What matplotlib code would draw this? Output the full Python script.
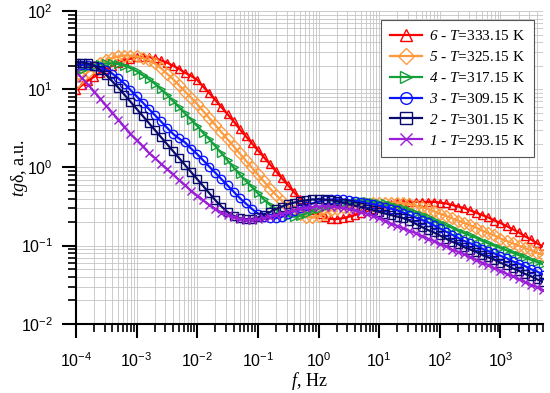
import matplotlib
matplotlib.use("Agg")
import matplotlib.pyplot as plt
from matplotlib.ticker import LogLocator, FuncFormatter, NullFormatter
import numpy as np

# frequency grid of the measurement, 10 points per decade, 1e-4 .. 5e3 Hz
freq = 10 ** np.round(np.arange(-4.0, 3.75, 0.1), 1)

# log10(tg delta) for every curve
lg_333 = [0.99, 1.05, 1.11, 1.16, 1.21, 1.26, 1.30, 1.34, 1.37, 1.39,
          1.41, 1.41, 1.41, 1.40, 1.37, 1.34, 1.30, 1.26, 1.21, 1.17,
          1.12, 1.03, 0.95, 0.86, 0.77, 0.68, 0.59, 0.49, 0.40, 0.31,
          0.22, 0.13, 0.04, -0.05, -0.14, -0.23, -0.32, -0.40, -0.48, -0.55,
          -0.60, -0.64, -0.66, -0.66, -0.65, -0.63, -0.61, -0.58, -0.56, -0.53,
          -0.51, -0.49, -0.47, -0.46, -0.45, -0.44, -0.44, -0.44, -0.44, -0.44,
          -0.45, -0.46, -0.48, -0.50, -0.52, -0.55, -0.58, -0.61, -0.64, -0.68,
          -0.71, -0.75, -0.79, -0.83, -0.88, -0.92, -0.97, -1.01]
lg_325 = [1.08, 1.15, 1.22, 1.28, 1.33, 1.37, 1.40, 1.42, 1.43, 1.43,
          1.42, 1.40, 1.37, 1.33, 1.27, 1.20, 1.13, 1.05, 0.97, 0.89,
          0.81, 0.72, 0.63, 0.54, 0.45, 0.36, 0.27, 0.18, 0.09, 0.00,
          -0.09, -0.18, -0.27, -0.35, -0.43, -0.50, -0.56, -0.60, -0.63, -0.64,
          -0.62, -0.59, -0.55, -0.53, -0.51, -0.50, -0.49, -0.48, -0.47, -0.46,
          -0.45, -0.45, -0.45, -0.45, -0.46, -0.47, -0.49, -0.51, -0.53, -0.56,
          -0.59, -0.62, -0.65, -0.68, -0.71, -0.74, -0.77, -0.81, -0.84, -0.87,
          -0.91, -0.94, -0.97, -1.00, -1.03, -1.06, -1.09, -1.12]
lg_317 = [1.22, 1.25, 1.28, 1.30, 1.32, 1.33, 1.33, 1.32, 1.30, 1.27,
          1.23, 1.18, 1.13, 1.07, 1.00, 0.93, 0.85, 0.77, 0.69, 0.61,
          0.53, 0.44, 0.36, 0.27, 0.18, 0.09, 0.00, -0.09, -0.17, -0.25,
          -0.33, -0.41, -0.48, -0.54, -0.59, -0.62, -0.63, -0.62, -0.59, -0.56,
          -0.53, -0.50, -0.48, -0.46, -0.45, -0.44, -0.43, -0.43, -0.43, -0.44,
          -0.45, -0.46, -0.48, -0.50, -0.52, -0.55, -0.58, -0.61, -0.64, -0.67,
          -0.71, -0.74, -0.77, -0.81, -0.84, -0.87, -0.90, -0.94, -0.97, -1.00,
          -1.03, -1.06, -1.09, -1.12, -1.15, -1.18, -1.21, -1.24]
lg_309 = [1.31, 1.31, 1.31, 1.30, 1.28, 1.25, 1.20, 1.14, 1.07, 0.99,
          0.91, 0.83, 0.75, 0.67, 0.59, 0.51, 0.43, 0.37, 0.32, 0.24,
          0.17, 0.09, 0.01, -0.07, -0.15, -0.23, -0.31, -0.39, -0.46, -0.53,
          -0.59, -0.63, -0.65, -0.65, -0.63, -0.60, -0.56, -0.52, -0.49, -0.46,
          -0.44, -0.42, -0.41, -0.41, -0.41, -0.42, -0.43, -0.44, -0.46, -0.47,
          -0.49, -0.51, -0.53, -0.55, -0.58, -0.61, -0.64, -0.67, -0.70, -0.74,
          -0.78, -0.82, -0.86, -0.90, -0.94, -0.97, -1.00, -1.04, -1.07, -1.10,
          -1.13, -1.16, -1.20, -1.23, -1.26, -1.30, -1.33, -1.37]
lg_301 = [1.34, 1.34, 1.33, 1.30, 1.25, 1.18, 1.10, 1.02, 0.93, 0.84,
          0.75, 0.66, 0.57, 0.48, 0.39, 0.30, 0.21, 0.12, 0.03, -0.06,
          -0.15, -0.24, -0.33, -0.42, -0.50, -0.57, -0.62, -0.65, -0.66, -0.66,
          -0.64, -0.61, -0.57, -0.53, -0.50, -0.47, -0.45, -0.43, -0.42, -0.41,
          -0.41, -0.41, -0.42, -0.43, -0.45, -0.47, -0.49, -0.51, -0.53, -0.55,
          -0.57, -0.59, -0.61, -0.63, -0.65, -0.68, -0.72, -0.76, -0.80, -0.83,
          -0.87, -0.91, -0.95, -0.98, -1.02, -1.05, -1.08, -1.12, -1.15, -1.18,
          -1.22, -1.25, -1.29, -1.32, -1.36, -1.39, -1.43, -1.46]
lg_293 = [1.22, 1.14, 1.06, 0.97, 0.88, 0.79, 0.70, 0.61, 0.52, 0.43,
          0.35, 0.27, 0.19, 0.12, 0.05, -0.02, -0.09, -0.16, -0.23, -0.30,
          -0.36, -0.42, -0.48, -0.53, -0.58, -0.61, -0.64, -0.66, -0.67, -0.67,
          -0.66, -0.65, -0.63, -0.61, -0.59, -0.57, -0.55, -0.53, -0.52, -0.51,
          -0.50, -0.50, -0.50, -0.51, -0.52, -0.53, -0.55, -0.57, -0.59, -0.62,
          -0.65, -0.68, -0.72, -0.75, -0.78, -0.81, -0.84, -0.88, -0.91, -0.94,
          -0.98, -1.01, -1.05, -1.08, -1.11, -1.15, -1.18, -1.22, -1.25, -1.29,
          -1.32, -1.36, -1.39, -1.43, -1.46, -1.50, -1.53, -1.57]

series = [
    ("6", "333.15", lg_333, "#ff0000", "^"),
    ("5", "325.15", lg_325, "#ff9a3c", "D"),
    ("4", "317.15", lg_317, "#13a03a", ">"),
    ("3", "309.15", lg_309, "#0a14ff", "o"),
    ("2", "301.15", lg_301, "#0a0a6e", "s"),
    ("1", "293.15", lg_293, "#9b1fd6", "x"),
]

plt.rcParams["font.family"] = "Liberation Sans"
plt.rcParams["mathtext.fontset"] = "custom"
plt.rcParams["mathtext.rm"] = "Liberation Serif"
plt.rcParams["mathtext.it"] = "Liberation Serif:italic"
# mathtext keeps digits upright under \it, so italic digits go through \mathcal
plt.rcParams["mathtext.cal"] = "Liberation Serif:italic"

fig = plt.figure(figsize=(5.5, 3.93), dpi=100)
ax = fig.add_axes([0.138, 0.176, 0.849, 0.796])

for num, temp, lg, col, mk in series:
    y = 10 ** np.array(lg)
    ax.plot(freq, y, color=col, lw=1.6, marker=mk, ms=6, mfc="none",
            mec=col, mew=1.0,
            label=r"$\mathcal{%s}$ - $\it{T}$=%s K" % (num, temp))

ax.set_xscale("log")
ax.set_yscale("log")
ax.set_xlim(1e-4, 5e3)
ax.set_ylim(1e-2, 1e2)

ax.xaxis.set_major_locator(LogLocator(base=10, numticks=20))
ax.xaxis.set_minor_locator(LogLocator(base=10, subs=np.arange(2, 10), numticks=20))
ax.yaxis.set_major_locator(LogLocator(base=10, numticks=10))
ax.yaxis.set_minor_locator(LogLocator(base=10, subs=np.arange(2, 10), numticks=10))
fmt = FuncFormatter(lambda v, p: r"$\mathregular{10^{%d}}$" % round(np.log10(v)))
ax.xaxis.set_major_formatter(fmt)
ax.yaxis.set_major_formatter(fmt)
ax.xaxis.set_minor_formatter(NullFormatter())
ax.yaxis.set_minor_formatter(NullFormatter())

ax.grid(True, which="both", color="#c4c4c4", lw=0.6)
ax.set_axisbelow(True)
for s in ["top", "right"]:
    ax.spines[s].set_visible(False)
for s in ["left", "bottom"]:
    ax.spines[s].set_linewidth(1.5)
ax.tick_params(which="major", direction="out", length=10, width=1.5, labelsize=11.5)
ax.tick_params(axis="x", which="major", pad=10)
ax.tick_params(axis="y", which="major", pad=6.5)
ax.tick_params(which="minor", direction="out", length=5.5, width=1.2)

ax.set_xlabel(r"$\it{f}$, Hz", family="Liberation Serif", fontsize=13, labelpad=0)
ax.set_ylabel(r"$\it{tg}$δ, a.u.", family="Liberation Serif", fontsize=13, labelpad=-6.5)

leg = ax.legend(loc="upper right", bbox_to_anchor=(0.981, 0.971), borderaxespad=0,
                prop={"family": "Liberation Serif", "size": 11}, fancybox=False,
                edgecolor="#555555", framealpha=1, handlelength=2.1,
                labelspacing=0.45, borderpad=0.6, handletextpad=0.45,
                markerscale=1.4)
leg.get_frame().set_linewidth(0.8)

fig.savefig("out.png", dpi=100)
